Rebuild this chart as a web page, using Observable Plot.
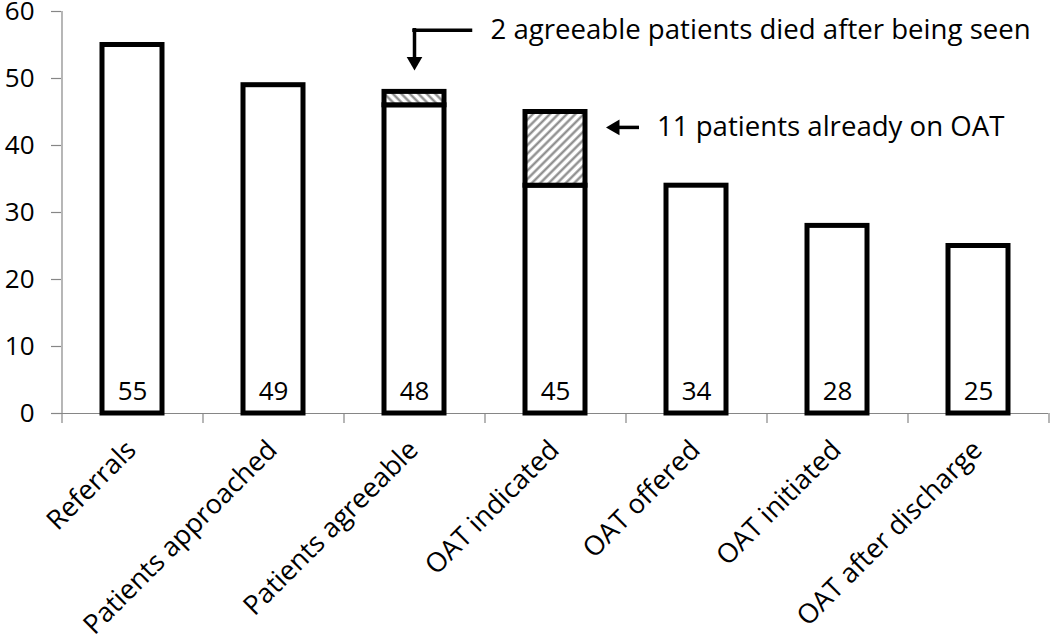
<!DOCTYPE html>
<html>
<head>
<meta charset="utf-8">
<script src="https://cdn.jsdelivr.net/npm/d3@7"></script>
<script src="https://cdn.jsdelivr.net/npm/@observablehq/plot@0.6"></script>
<style>
  html, body { margin: 0; padding: 0; background: #fff; }
  #chart svg { display: block; }
</style>
</head>
<body>
<div id="chart"></div>
<script>
// ---- data ----
const categories = ["Referrals", "Patients approached", "Patients agreeable", "OAT indicated", "OAT offered", "OAT initiated", "OAT after discharge"];
const totals = [55, 49, 48, 45, 34, 28, 25];
const hatchedPart = [0, 0, 2, 11, 0, 0, 0];
const yTicks = [0, 10, 20, 30, 40, 50, 60];

// annotations (category, text, anchor levels in data units)
const noteCategories = ["Patients agreeable", "OAT indicated"];
const noteTexts = ["2 agreeable patients died after being seen", "11 patients already on OAT"];
const noteLevels = [57.2, 42.7];
const noteHeadLevels = [52.54, 42.7];

const rows = categories.map((c, i) => ({category: c, total: totals[i], hatched: hatchedPart[i], base: totals[i] - hatchedPart[i]}));
const hatchRowsA = rows.filter(d => d.hatched > 0 && d.category === "OAT indicated");
const hatchRowsB = rows.filter(d => d.hatched > 0 && d.category === "Patients agreeable");
const notes = noteCategories.map((c, i) => ({category: c, text: noteTexts[i], level: noteLevels[i], head: noteHeadLevels[i]}));

const FONT = "'Open Sans', sans-serif";
const AXIS_GRAY = "#868686";

function defsMark() {
  const g = d3.create("svg:g");
  const defs = g.append("defs");
  const mk = (id, angle) => {
    const p = defs.append("pattern").attr("id", id).attr("patternUnits", "userSpaceOnUse")
      .attr("width", 6).attr("height", 6).attr("patternTransform", `rotate(${angle})`);
    p.append("rect").attr("width", 6).attr("height", 6).attr("fill", "white");
    p.append("line").attr("x1", 1.5).attr("y1", 0).attr("x2", 1.5).attr("y2", 6)
      .attr("stroke", "#858585").attr("stroke-width", 2.2);
  };
  mk("hatchA", 45);
  mk("hatchB", -45);
  return g.node();
}

const firstCat = categories[0];
const lastCat = categories[categories.length - 1];

const chart = Plot.plot({
  width: 1050,
  height: 639,
  marginLeft: 61,
  marginRight: 2,
  marginTop: 11,
  marginBottom: 226,
  style: {fontFamily: FONT, fontSize: "27px", color: "black", background: "white", overflow: "visible"},
  x: {domain: categories, paddingInner: 0.575, paddingOuter: 0.2875, label: null},
  y: {domain: [0, 60], label: null},
  marks: [
    defsMark,
    // axis lines and category boundary ticks
    Plot.ruleY([0], {stroke: AXIS_GRAY, strokeWidth: 1.2}),
    Plot.ruleX([firstCat], {x: d => d, y1: 0, y2: 60, dx: -70.5, stroke: AXIS_GRAY, strokeWidth: 1.2}),
    Plot.ruleX(categories, {x: d => d, y1: 0, y2: -1.5, dx: -70.5, stroke: AXIS_GRAY, strokeWidth: 1.2}),
    Plot.ruleX([lastCat], {x: d => d, y1: 0, y2: -1.5, dx: 70.5, stroke: AXIS_GRAY, strokeWidth: 1.2}),
    Plot.axisY({ticks: yTicks, tickSize: 10, tickPadding: 17, stroke: AXIS_GRAY, strokeWidth: 1.2, fontSize: 26, label: null, tickFormat: d => d}),
    Plot.axisX({tickSize: 0, tickRotate: -45, tickPadding: 32, dx: -1, fontSize: 27, label: null}),
    // bars
    Plot.barY(rows, {x: "category", y1: 0, y2: "base", fill: "white", stroke: "black", strokeWidth: 5}),
    Plot.barY(hatchRowsA, {x: "category", y1: "base", y2: "total", fill: "url(#hatchA)", stroke: "black", strokeWidth: 5}),
    Plot.barY(hatchRowsB, {x: "category", y1: "base", y2: "total", fill: "url(#hatchB)", stroke: "black", strokeWidth: 5}),
    Plot.text(rows, {x: "category", y: 0, text: d => String(d.total), dy: -14, lineAnchor: "bottom", fontSize: 26, fill: "black"}),
    // note 1: elbow arrow down onto "Patients agreeable"
    Plot.tickY([notes[0]], {x: "category", y: "level", dx: 28.25, stroke: "black", strokeWidth: 3.5}),
    Plot.ruleX([notes[0]], {x: "category", y1: d => d.level + 0.26, y2: d => d.head, stroke: "black", strokeWidth: 3.5}),
    Plot.dot([notes[0]], {x: "category", y: "head", symbol: "triangle", r: 5.8, rotate: 180, fill: "black", stroke: "none"}),
    Plot.text([notes[0]], {x: "category", y: "level", text: "text", dx: 76, textAnchor: "start", lineAnchor: "middle", fontSize: 27.6, fill: "black"}),
    // note 2: arrow pointing left at "OAT indicated"
    Plot.tickY([notes[1]], {x: "category", y: "level", dx: 90, insetRight: 36, stroke: "black", strokeWidth: 3.5}),
    Plot.dot([notes[1]], {x: "category", y: "head", dx: 59.5, symbol: "triangle", r: 5.8, rotate: -90, fill: "black", stroke: "none"}),
    Plot.text([notes[1]], {x: "category", y: "level", text: "text", dx: 101.5, textAnchor: "start", lineAnchor: "middle", fontSize: 27.6, fill: "black"})
  ]
});
document.getElementById("chart").appendChild(chart);
</script>
</body>
</html>
